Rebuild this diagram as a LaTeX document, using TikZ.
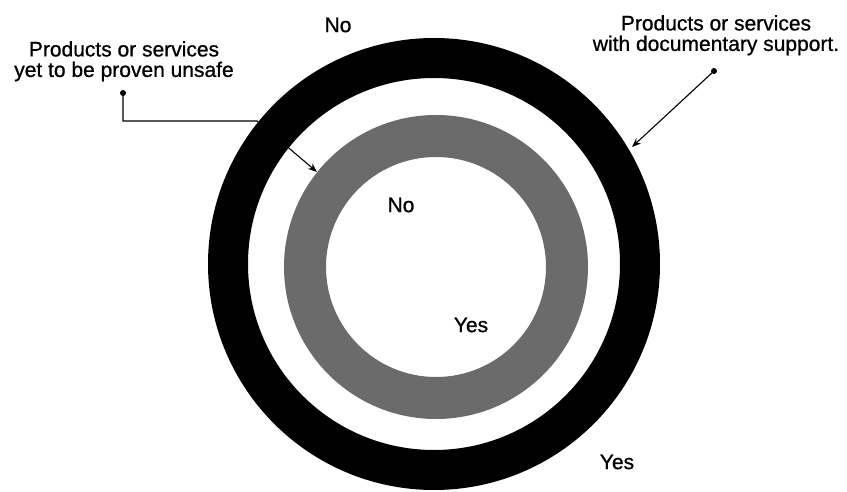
\documentclass[tikz,border=0pt]{standalone}
\usepackage{fontspec}
\setmainfont{Liberation Sans}
\newfontfamily\lblfont{Liberation Sans}[FakeBold=0.8]
\usetikzlibrary{arrows.meta}
\begin{document}
\begin{tikzpicture}[x=1pt,y=-1pt,
  lbl/.style={inner sep=0pt,font=\lblfont\fontsize{21}{20.5}\selectfont,align=center},
  conn/.style={line width=1.1pt,-{Stealth[length=9pt,width=7pt]}},
  dotmark/.style={circle,fill=black,inner sep=0pt,minimum size=6pt}]
\useasboundingbox (0,0) rectangle (847,492);
\fill[white] (0,0) rectangle (847,492);
% rings
\coordinate (bc) at (434,264);
\coordinate (gc) at (436,267);
\fill[black,even odd rule] (bc) circle (226pt) (bc) circle (186pt);
\fill[black!58,even odd rule] (gc) circle (152pt) (gc) circle (110pt);
% labels
\node[lbl,anchor=north] (lleft) at (124,41) {Products or services\\yet to be proven unsafe};
\node[lbl,anchor=north] (lright) at (716,15) {Products or services\\with documentary support.};
\node[lbl] (notop) at (338,25) {No};
\node[lbl] (noin) at (401,205) {No};
\node[lbl] (yesin) at (471,325) {Yes};
\node[lbl] (yesout) at (617,462) {Yes};
% connectors
\node[dotmark] (ldot) at (123,93) {};
\coordinate (lb1) at (123,121);
\coordinate (lb2) at (257,121);
\coordinate (ltip) at (317,172);
\draw[conn] (ldot.center) -- (lb1) -- (lb2) -- (ltip);
\node[dotmark] (rdot) at (714,71) {};
\coordinate (rtip) at (632,147);
\draw[conn] (rdot.center) -- (rtip);
\end{tikzpicture}
\end{document}
